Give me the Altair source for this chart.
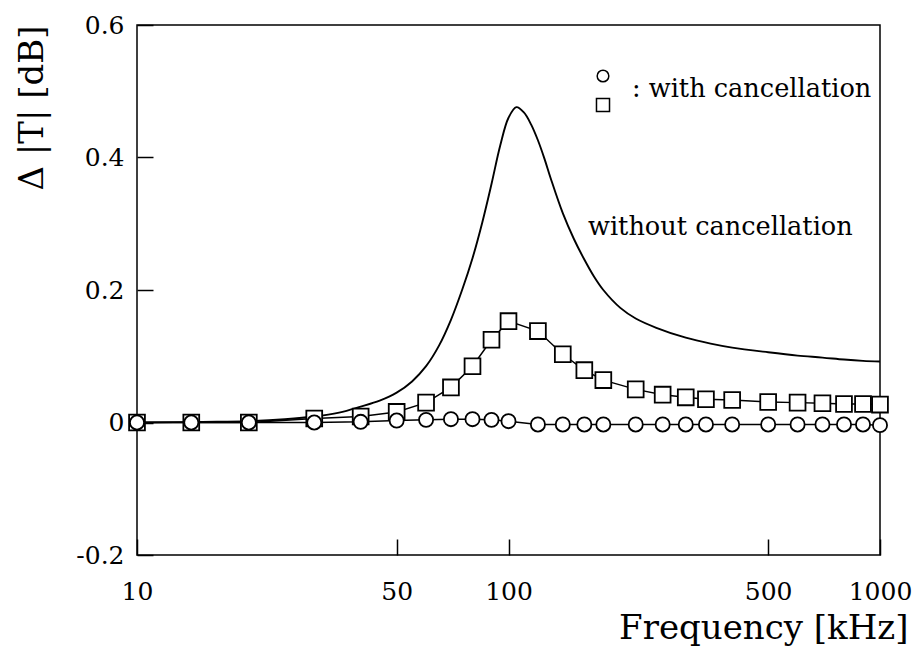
import altair as alt
import pandas as pd

# ---- data ----
marker_freq = [10, 14, 20, 30, 40, 50, 60, 70, 80, 90, 100, 120, 140, 160, 180,
               220, 260, 300, 340, 400, 500, 600, 700, 800, 900, 1000]
circle_vals = [0.0, 0.0, 0.0, 0.0, 0.001, 0.003, 0.004, 0.005, 0.005, 0.004, 0.002,
               -0.003, -0.003, -0.003, -0.003, -0.003, -0.003, -0.003, -0.003, -0.003,
               -0.003, -0.003, -0.003, -0.003, -0.003, -0.004]
square_vals = [0.0, 0.0, 0.0, 0.006, 0.009, 0.016, 0.030, 0.053, 0.085, 0.125, 0.153,
               0.138, 0.103, 0.079, 0.064, 0.050, 0.042, 0.038, 0.035, 0.034,
               0.031, 0.030, 0.029, 0.028, 0.028, 0.027]

curve_freq = [10, 15, 20, 25, 30, 35, 40, 45, 50, 55, 60, 65, 70, 75, 80, 85, 90, 95,
              100, 105, 110, 115, 120, 125, 130, 140, 150, 160, 170, 180, 200, 220,
              250, 300, 350, 400, 500, 600, 700, 800, 900, 1000]
curve_vals = [0.0, 0.001, 0.002, 0.005, 0.009, 0.015, 0.024, 0.033, 0.045, 0.062,
              0.085, 0.116, 0.155, 0.200, 0.248, 0.302, 0.360, 0.418, 0.460, 0.476,
              0.468, 0.450, 0.426, 0.398, 0.368, 0.316, 0.277, 0.246, 0.220, 0.200,
              0.173, 0.157, 0.143, 0.128, 0.119, 0.113, 0.106, 0.101, 0.098, 0.095,
              0.093, 0.092]

x_ticks = [10, 50, 100, 500, 1000]
y_ticks = [-0.2, 0.0, 0.2, 0.4, 0.6]

FONT = "DejaVu Serif"

markers = pd.DataFrame({"f": marker_freq, "c": circle_vals, "s": square_vals})
curve = pd.DataFrame({"f": curve_freq, "v": curve_vals})

x_axis = alt.Axis(
    values=x_ticks, format="d", orient="bottom", offset=-16, tickSize=16,
    tickColor="black", tickWidth=1.5, domain=False, grid=False,
    labelFont=FONT, labelFontSize=25, labelColor="black", labelPadding=36,
    labelBaseline="middle", labelFlush=False, labelOverlap=False, labelBound=False,
    title="Frequency [kHz]", titleFont=FONT, titleFontSize=34,
    titleFontWeight="normal", titleColor="black", titleX=771, titleY=89,
    titleAlign="right", titleBaseline="middle",
)
y_axis = alt.Axis(
    values=y_ticks, orient="left", offset=-16, tickSize=16,
    tickColor="black", tickWidth=1.5, domain=False, grid=False,
    labelExpr="datum.value == 0 ? '0' : (datum.value < 0 ? '-' + format(-datum.value, '.1f') : format(datum.value, '.1f'))",
    labelFont=FONT, labelFontSize=25, labelColor="black", labelPadding=13,
    labelAlign="right", labelBaseline="middle", labelOverlap=False, labelBound=False,
    labelFlush=False,
    title="Δ |T| [dB]", titleFont=FONT, titleFontSize=34, titleFontWeight="normal",
    titleColor="black", titleX=-121, titleY=0, titleAngle=-90,
    titleAlign="right", titleBaseline="middle",
)

xscale = alt.Scale(type="log", domain=[10, 1000], nice=False)
yscale = alt.Scale(domain=[-0.2, 0.6], nice=False, zero=False)

X = alt.X("f:Q", scale=xscale, axis=x_axis)

curve_line = alt.Chart(curve).mark_line(
    color="black", strokeWidth=1.9, interpolate="catmull-rom"
).encode(x=X, y=alt.Y("v:Q", scale=yscale, axis=y_axis))

sq_line = alt.Chart(markers).mark_line(color="black", strokeWidth=1.5).encode(
    x=X, y=alt.Y("s:Q", scale=yscale, axis=y_axis))
sq_pts = alt.Chart(markers).mark_point(
    shape="square", size=250, filled=True, fill="white", stroke="black",
    strokeWidth=1.8, opacity=1
).encode(x=X, y=alt.Y("s:Q", scale=yscale, axis=y_axis))

ci_line = alt.Chart(markers).mark_line(color="black", strokeWidth=1.5).encode(
    x=X, y=alt.Y("c:Q", scale=yscale, axis=y_axis))
ci_pts = alt.Chart(markers).mark_point(
    shape="circle", size=200, filled=True, fill="white", stroke="black",
    strokeWidth=1.8, opacity=1
).encode(x=X, y=alt.Y("c:Q", scale=yscale, axis=y_axis))

label_df = pd.DataFrame({"t": ["without cancellation"]})
without_txt = alt.Chart(label_df).mark_text(
    font=FONT, fontSize=25.6, align="left", baseline="alphabetic", color="black"
).encode(text="t:N", x=alt.value(451), y=alt.value(210))

legend_df = pd.DataFrame({"t": [": with cancellation"]})
with_txt = alt.Chart(legend_df).mark_text(
    font=FONT, fontSize=25.6, align="left", baseline="alphabetic", color="black"
).encode(text="t:N", x=alt.value(495), y=alt.value(72))
leg_circle = alt.Chart(legend_df).mark_point(
    shape="circle", size=135, filled=True, fill="white", stroke="black",
    strokeWidth=1.5, opacity=1
).encode(x=alt.value(466), y=alt.value(51))
leg_square = alt.Chart(legend_df).mark_point(
    shape="square", size=170, filled=True, fill="white", stroke="black",
    strokeWidth=1.5, opacity=1
).encode(x=alt.value(466), y=alt.value(80))

chart = alt.layer(
    curve_line, sq_line, sq_pts, ci_line, ci_pts,
    without_txt, with_txt, leg_circle, leg_square
).properties(
    width=743, height=530,
    autosize=alt.AutoSizeParams(type="none"),
    padding={"left": 137, "top": 25, "right": 34, "bottom": 93},
    background="white",
).configure_view(stroke="black", strokeWidth=1.5)

chart.save("out.html", embed_options={"renderer": "svg", "actions": False})
